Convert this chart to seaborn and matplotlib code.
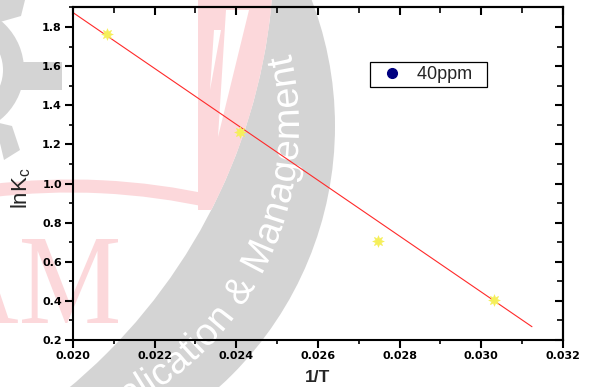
import numpy as np
import matplotlib
matplotlib.use("Agg")
import matplotlib.pyplot as plt
import seaborn as sns
from matplotlib.patches import Circle, Rectangle, Polygon, PathPatch, Arc, Wedge
from matplotlib.path import Path
from matplotlib.textpath import TextPath
from matplotlib.font_manager import FontProperties
from matplotlib.lines import Line2D
from matplotlib.ticker import MultipleLocator
from matplotlib.transforms import Affine2D

# Reciprocal temperature vs ln Kc
inv_T = [0.02084, 0.02409, 0.02746, 0.03032]
ln_Kc = [1.765, 1.266, 0.708, 0.405]
# Straight-line fit across the range
fit_x = [0.0200, 0.03124]
fit_y = [1.874, 0.268]
series_label = "40ppm"

x_ticks = [0.020, 0.022, 0.024, 0.026, 0.028, 0.030, 0.032]
x_tick_labels = ["0.020", "0.022", "0.024", "0.026", "0.028", "0.030", "0.032"]
y_ticks = [0.2, 0.4, 0.6, 0.8, 1.0, 1.2, 1.4, 1.6, 1.8]
y_tick_labels = ["0.2", "0.4", "0.6", "0.8", "1.0", "1.2", "1.4", "1.6", "1.8"]

W, H = 590, 387
sns.set_theme(style="ticks")
plt.rcParams["font.family"] = ["DejaVu Sans"]
plt.rcParams["xtick.color"] = "black"
plt.rcParams["ytick.color"] = "black"
plt.rcParams["axes.edgecolor"] = "black"

fig = plt.figure(figsize=(W / 100, H / 100), dpi=100, facecolor="white")

# ---- background watermark layer (pixel coordinates, y pointing down) ----
bg = fig.add_axes([0, 0, 1, 1], zorder=0)
bg.set_xlim(0, W)
bg.set_ylim(H, 0)
bg.axis("off")

GRAY = "#d4d4d4"
PINK = "#fcd8db"

# grey crescent
bg.add_patch(Circle((-17, 126), 352, facecolor=GRAY, lw=0))
bg.add_patch(Circle((-296, -50), 570, facecolor="white", lw=0))

# small gear at the top left
bg.add_patch(Wedge((-40, 70), 64, 0, 360, width=21, facecolor=GRAY, lw=0))
bg.add_patch(Rectangle((15, 62), 47, 28, facecolor=GRAY, lw=0))
bg.add_patch(Polygon([(-5, 122), (12, 126), (20, 150), (4, 160)], facecolor=GRAY, lw=0))
bg.add_patch(Polygon([(0, 0), (25, 0), (21, 16), (0, 22)], facecolor=GRAY, lw=0))

# pink bar bordering the crescent
ys = np.linspace(0, 210, 30)
xs_in = -296 + np.sqrt(570 ** 2 - (ys + 50) ** 2)
bar = [(198, 0)] + list(zip(xs_in, ys)) + [(198, 210)]
bg.add_patch(Polygon(bar, facecolor=PINK, lw=0))
bg.add_patch(Polygon([(226, 10), (249, 10), (218, 137)], facecolor="white", lw=0))
bg.add_patch(Polygon([(214, 30), (221, 30), (210, 90)], facecolor="white", lw=0))

# pink arc
bg.add_patch(Arc((70, 837), 2 * 651, 2 * 651, theta1=262.9, theta2=282.7,
                 color=PINK, lw=9.4, capstyle="butt"))

# serif letters
fp_serif = FontProperties(family="Liberation Serif")
tp_m = TextPath((0, 0), "M", size=100, prop=fp_serif)
bb_m = tp_m.get_extents()
tp_am = TextPath((0, 0), "AM", size=100, prop=fp_serif)
bb_am = tp_am.get_extents()
sy = 84 / bb_m.height
sx = 96 / bb_m.width
tr = Affine2D().translate(-bb_am.x1, -bb_am.y0).scale(sx, -sy).translate(118, 323)
bg.add_patch(PathPatch(tr.transform_path(tp_am), facecolor=PINK, lw=0))

# curved white lettering inside the crescent
fp_sans = FontProperties(family="Liberation Sans")
tp = TextPath((0, 0), "Application & Management", size=38, prop=fp_sans)
v = tp.vertices.copy()
u_end = tp.get_extents().x1
cx, cy, rt = -17, 126, 306
phi = np.deg2rad(13.1) - (u_end - v[:, 0]) / rt
r = rt + 10 - v[:, 1]
curved = Path(np.column_stack([cx + r * np.cos(phi), cy - r * np.sin(phi)]), tp.codes)
bg.add_patch(PathPatch(curved, facecolor="white", lw=0))

# ---- main plot ----
ax = fig.add_axes([73 / W, 1 - 340 / H, 490 / W, 332.5 / H], zorder=1)
ax.set_facecolor("none")

sns.lineplot(x=fit_x, y=fit_y, ax=ax, color="#ff2a2a", lw=0.8)
sns.scatterplot(x=inv_T, y=ln_Kc, ax=ax, marker=(8, 1, 0), s=70,
                color="#f5ef5a", edgecolor="#f5ef5a", linewidth=0.4, zorder=3)

ax.set_xlim(0.020, 0.032)
ax.set_ylim(0.2, 1.9)
ax.set_xticks(x_ticks)
ax.set_xticklabels(x_tick_labels)
ax.set_yticks(y_ticks)
ax.set_yticklabels(y_tick_labels)
ax.xaxis.set_minor_locator(MultipleLocator(0.001))
ax.yaxis.set_minor_locator(MultipleLocator(0.1))
ax.tick_params(which="major", direction="out", length=5.5, width=1.5, pad=2.5,
               labelsize=8, bottom=True, left=True, top=False, right=False)
ax.tick_params(which="minor", direction="out", length=3, width=1.2,
               bottom=True, left=True, top=False, right=False)
for lab in ax.get_xticklabels() + ax.get_yticklabels():
    lab.set_fontweight("bold")
for sp in ax.spines.values():
    sp.set_visible(True)
    sp.set_linewidth(1.5)
    sp.set_color("black")

top = ax.secondary_xaxis("top")
top.set_xticks(x_ticks)
top.xaxis.set_minor_locator(MultipleLocator(0.001))
top.tick_params(which="major", direction="in", length=6, width=1.5, labeltop=False)
top.tick_params(which="minor", direction="in", length=4, width=1.2)
top.spines["top"].set_linewidth(1.5)

right = ax.secondary_yaxis("right")
right.set_yticks(y_ticks)
right.yaxis.set_minor_locator(MultipleLocator(0.1))
right.tick_params(which="major", direction="in", length=6, width=1.5, labelright=False)
right.tick_params(which="minor", direction="in", length=4, width=1.2)
right.spines["right"].set_linewidth(1.5)

ax.set_xlabel("1/T", fontsize=12.5, fontweight="bold", family="Liberation Sans")
ax.xaxis.set_label_coords(0.5, -0.090)
ax.set_ylabel("lnK$_\\mathregular{c}$", fontsize=16, family="Liberation Sans")
ax.yaxis.set_label_coords(-0.0816, 0.457)

handle = Line2D([], [], marker="o", ls="none", color="#000080", markersize=7)
leg = ax.legend([handle], [series_label + "  "], loc="upper left",
                bbox_to_anchor=(0.606, 0.836),
                borderaxespad=0, frameon=True, fancybox=False, edgecolor="black",
                framealpha=1, prop=FontProperties(family="Liberation Sans", size=13),
                borderpad=0.22, handlelength=2.05, handletextpad=0.36)
leg.get_frame().set_linewidth(0.9)

fig.savefig("out.png", dpi=100)
